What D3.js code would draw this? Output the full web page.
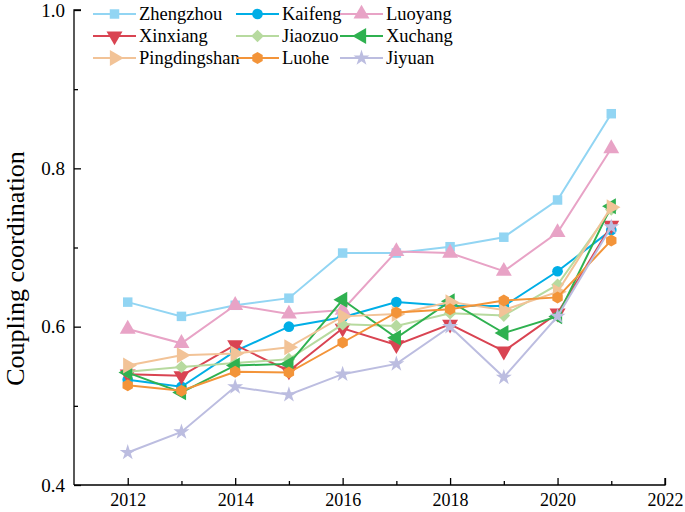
<!DOCTYPE html>
<html lang="en">
<head>
  <meta charset="UTF-8">
  <title>Coupling coordination</title>
  <script src="https://d3js.org/d3.v7.min.js"></script>
  <style>
    body { margin: 0; background: #fff; }
    .axis path, .axis line { stroke: #000; stroke-width: 1.3px; }
    .line { fill: none; stroke-width: 2px; }
  </style>
</head>
<body>
  <script>
    // data
    const years = [2012, 2013, 2014, 2015, 2016, 2017, 2018, 2019, 2020, 2021];
    const cities = ["Zhengzhou", "Kaifeng", "Luoyang", "Xinxiang", "Jiaozuo", "Xuchang", "Pingdingshan", "Luohe", "Jiyuan"];
    const zhengzhou    = [0.631, 0.613, 0.627, 0.636, 0.693, 0.693, 0.701, 0.713, 0.760, 0.869];
    const kaifeng      = [0.533, 0.524, 0.569, 0.600, 0.612, 0.631, 0.626, 0.626, 0.670, 0.722];
    const luoyang      = [0.597, 0.579, 0.627, 0.616, 0.621, 0.695, 0.693, 0.670, 0.719, 0.825];
    const xinxiang     = [0.540, 0.538, 0.577, 0.544, 0.598, 0.577, 0.603, 0.569, 0.617, 0.728];
    const jiaozuo      = [0.543, 0.549, 0.554, 0.559, 0.603, 0.601, 0.617, 0.614, 0.653, 0.748];
    const xuchang      = [0.542, 0.517, 0.551, 0.553, 0.634, 0.586, 0.632, 0.592, 0.613, 0.752];
    const pingdingshan = [0.551, 0.564, 0.566, 0.574, 0.613, 0.616, 0.631, 0.621, 0.644, 0.751];
    const luohe        = [0.526, 0.519, 0.543, 0.542, 0.580, 0.618, 0.622, 0.633, 0.637, 0.709];
    const jiyuan       = [0.441, 0.467, 0.524, 0.514, 0.540, 0.553, 0.600, 0.536, 0.613, 0.726];
    const values = [zhengzhou, kaifeng, luoyang, xinxiang, jiaozuo, xuchang, pingdingshan, luohe, jiyuan];
    const xTicks = [2012, 2014, 2016, 2018, 2020, 2022];
    const yTicks = [0.4, 0.6, 0.8, 1.0];

    const colors = ["#92d5f3", "#00aee6", "#e8a3c6", "#d94452", "#b7da9f", "#2fb150", "#f2c397", "#f39439", "#bcbde0"];
    const FONT = "'Liberation Serif', 'Times New Roman', serif";

    const W = 685, H = 512;
    const margin = { top: 10, right: 20, bottom: 27, left: 74 };

    const svg = d3.select("body").append("svg")
      .attr("width", W).attr("height", H);

    const x = d3.scaleLinear().domain([2011, 2022]).range([margin.left, 665]);
    const y = d3.scaleLinear().domain([0.4, 1.0]).range([485, margin.top]);

    // marker shapes
    const hexagon = function (r) {
      let p = "";
      for (let i = 0; i < 6; i++) {
        const a = Math.PI / 3 * i;
        p += (i ? "L" : "M") + (r * Math.cos(a)).toFixed(2) + "," + (r * Math.sin(a)).toFixed(2);
      }
      return p + "Z";
    };
    const markers = [
      { path: d3.symbol(d3.symbolSquare, 90)(), rot: 0 },
      { path: d3.symbol(d3.symbolCircle, 90)(), rot: 0 },
      { path: d3.symbol(d3.symbolTriangle, 110)(), rot: 0 },
      { path: d3.symbol(d3.symbolTriangle, 110)(), rot: 180 },
      { path: d3.symbol(d3.symbolSquare, 80)(), rot: 45 },
      { path: d3.symbol(d3.symbolTriangle, 110)(), rot: -90 },
      { path: d3.symbol(d3.symbolTriangle, 110)(), rot: 90 },
      { path: hexagon(6), rot: 90 },
      { path: d3.symbol(d3.symbolStar, 80)(), rot: 0 }
    ];

    // axes
    const xAxis = svg.append("g").attr("class", "axis")
      .attr("transform", "translate(0," + y(0.4) + ")")
      .call(d3.axisBottom(x).tickValues(d3.range(2011, 2023)).tickSize(-4)
        .tickFormat(d => xTicks.includes(d) ? d : ""))
      .call(g => g.select(".domain").attr("d", "M" + x(2011) + ",0H" + x(2022) + "V-7"));
    xAxis.selectAll(".tick line").attr("y2", d => xTicks.includes(d) ? -7 : -4);
    xAxis.selectAll(".tick").filter(d => d === 2011).remove();
    xAxis.selectAll("text").attr("y", 8).attr("fill", "#000")
      .style("font-family", FONT).style("font-size", "18px");

    const yAxis = svg.append("g").attr("class", "axis")
      .attr("transform", "translate(" + x(2011) + ",0)")
      .call(d3.axisLeft(y).tickValues([0.4, 0.5, 0.6, 0.7, 0.8, 0.9, 1.0]).tickSize(-4)
        .tickFormat(d => yTicks.some(t => Math.abs(t - d) < 1e-9) ? d.toFixed(1) : ""))
      .call(g => g.select(".domain").attr("d", "M7," + y(1.0) + "H0V" + y(0.4)));
    yAxis.selectAll(".tick line").attr("x2", d => yTicks.some(t => Math.abs(t - d) < 1e-9) ? 7 : 4);
    yAxis.selectAll("text").attr("x", -9).attr("fill", "#000")
      .style("font-family", FONT).style("font-size", "19px");

    svg.append("text")
      .attr("transform", "translate(24," + ((y(0.4) + y(1.0)) / 2 + 21) + ") rotate(-90)")
      .attr("text-anchor", "middle")
      .style("font-family", FONT)
      .style("font-size", "26px")
      .text("Coupling coordination");

    // series
    const line = d3.line().x((d, i) => x(years[i])).y(d => y(d));
    cities.forEach((c, k) => {
      const g = svg.append("g");
      g.append("path").attr("class", "line")
        .attr("d", line(values[k]))
        .attr("stroke", colors[k]);
      g.selectAll("path.m").data(values[k]).enter().append("path")
        .attr("class", "m")
        .attr("d", markers[k].path)
        .attr("fill", colors[k])
        .attr("transform", (d, i) => "translate(" + x(years[i]) + "," + y(d) + ") rotate(" + markers[k].rot + ")");
    });

    // legend
    const colX = [93, 236, 340];
    const rowY = [14, 36, 58];
    cities.forEach((c, k) => {
      const lx = colX[k % 3], ly = rowY[Math.floor(k / 3)];
      const g = svg.append("g").attr("transform", "translate(" + lx + "," + ly + ")");
      g.append("line").attr("x1", 0).attr("x2", 43).attr("y1", 0).attr("y2", 0)
        .attr("stroke", colors[k]).attr("stroke-width", 2);
      g.append("path").attr("d", markers[k].path).attr("fill", colors[k])
        .attr("transform", "translate(21.5,0) rotate(" + markers[k].rot + ")");
      g.append("text").attr("x", 46).attr("y", 0).attr("dy", "0.35em")
        .style("font-family", FONT).style("font-size", "18.5px").text(c);
    });
  </script>
</body>
</html>
